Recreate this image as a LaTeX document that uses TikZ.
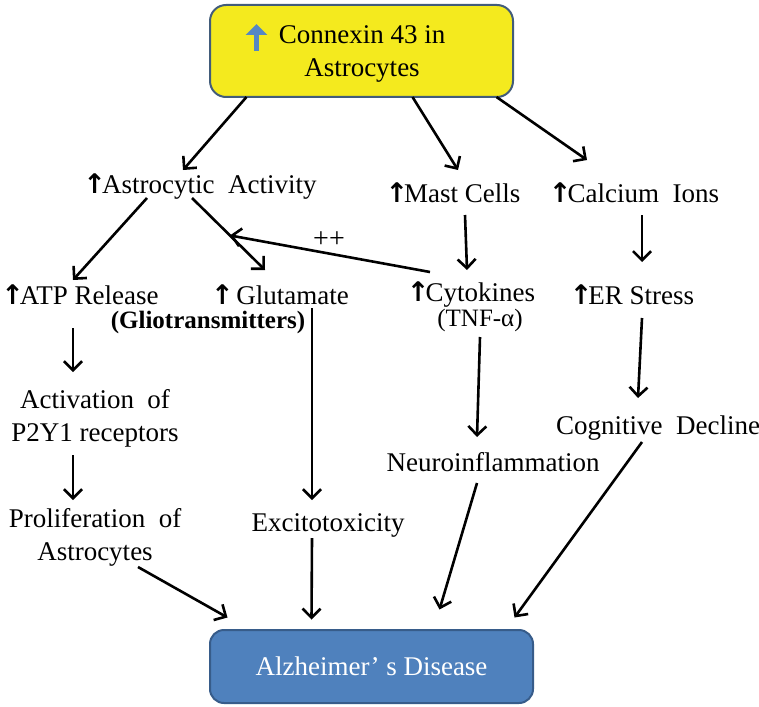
\documentclass[tikz,border=0pt]{standalone}
\usepackage{fontspec}
\setmainfont{Liberation Serif}
\newfontfamily\djv{DejaVu Sans}
\usetikzlibrary{arrows.meta,calc}
\definecolor{yel}{RGB}{244,234,30}
\definecolor{yelborder}{RGB}{66,92,122}
\definecolor{adfill}{RGB}{79,129,189}
\definecolor{adborder}{RGB}{55,92,138}
\definecolor{upblue}{RGB}{85,135,195}
\newcommand\uparrw{{\djv\bfseries ↑}\kern-4pt}
\begin{document}
\begin{tikzpicture}[x=1pt,y=-1pt,
  txt/.style={font=\fontsize{27}{33}\selectfont, inner sep=0pt, align=center},
  arr/.style={line width=2.6pt, -{Straight Barb[length=9pt,width=18pt,line width=2.6pt]}},
  topbox/.style={draw=yelborder, line width=2pt, fill=yel, rounded corners=16pt,
    minimum width=303pt, minimum height=92pt, inner sep=0pt},
  adbox/.style={draw=adborder, line width=2pt, fill=adfill, rounded corners=14pt,
    minimum width=323pt, minimum height=73pt, inner sep=0pt, text=white,
    font=\fontsize{27}{30}\selectfont},
  bluearrow/.style={draw=upblue, line width=5.5pt, -{Triangle[length=11pt,width=21pt]}},
]
\useasboundingbox (0,0) rectangle (759,706);

\node[topbox] (top) at (361.5,51) {};
\node[txt] (toptext) at (362,54) {Connexin 43 in\\Astrocytes};
\draw[bluearrow] ([shift={(-105,0)}]top.center) -- ([shift={(-105,-27)}]top.center);
\node[adbox] (ad) at (371.5,666.5) {Alzheimer’ s Disease};

\node[txt] (act) at (200,187) {\uparrw Astrocytic\enspace Activity};
\node[txt] (mast) at (453,193) {\uparrw Mast Cells};
\node[txt] (calc) at (634,193) {\uparrw Calcium\enspace Ions};
\node[txt] (atp) at (80,295) {\uparrw ATP Release};
\node[txt] (glu) at (280,295) {\uparrw\ Glutamate};
\node[txt, font=\fontsize{25}{30}\selectfont\bfseries] (glio) at (208,322) {(Gliotransmitters)};
\node[txt] (cyt) at (471,295) {\uparrw Cytokines};
\node[txt, font=\fontsize{25}{30}\selectfont] (tnf) at (480,320) {(TNF-α)};
\node[txt] (er) at (632,295) {\uparrw ER Stress};
\node[txt] (activ) at (95,418) {Activation\enspace of\\P2Y1 receptors};
\node[txt] (prolif) at (95,537) {Proliferation\enspace of\\Astrocytes};
\node[txt] (excito) at (328,525) {Excitotoxicity};
\node[txt] (neuro) at (493,462) {Neuroinflammation};
\node[txt] (cog) at (658,428) {Cognitive\enspace Decline};
\node[txt, font=\fontsize{28}{33}\selectfont] (pp) at (329,240) {++};

\draw[arr] ([shift={(-115,46)}]top.center) -- ([shift={(-17,-17)}]act.center);
\draw[arr] ([shift={(51,46)}]top.center) -- ([shift={(5,-23)}]mast.center);
\draw[arr] ([shift={(135,46)}]top.center) -- ([shift={(-47,-33)}]calc.center);

\coordinate (ag1) at ([shift={(-8,11)}]act.center);
\coordinate (ag2) at ([shift={(-15,-25)}]glu.center);
\draw[arr] ([shift={(-53,11)}]act.center) -- ([shift={(-7,-15)}]atp.center);
\draw[arr] (ag1) -- (ag2);
\coordinate (fb) at ($(ag1)!0.52!(ag2)$);
\draw[arr] ([shift={(-41,-23)}]cyt.center) -- (fb);

\draw[arr] ([shift={(12,22)}]mast.center) -- ([shift={(-4,-25)}]cyt.center);
\draw[arr] ([shift={(8,22)}]calc.center) -- ([shift={(10,-33)}]er.center);

\draw[arr] ([shift={(-7,33)}]atp.center) -- ([shift={(-22,-46)}]activ.center);
\draw[arr] ([shift={(-22,37)}]activ.center) -- ([shift={(-22,-37)}]prolif.center);
\draw[arr] ([shift={(32,13)}]glu.center) -- ([shift={(-16,-25)}]excito.center);
\draw[arr] ([shift={(-16,13)}]excito.center) -- ([shift={(-60,-47)}]ad.center);
\draw[arr] ([shift={(43,30)}]prolif.center) -- ([shift={(-144,-49)}]ad.center);
\draw[arr] ([shift={(-13,-125)}]neuro.center) -- ([shift={(-16,-25)}]neuro.center);
\draw[arr] ([shift={(-16,21)}]neuro.center) -- ([shift={(68,-57)}]ad.center);
\draw[arr] ([shift={(10,23)}]er.center) -- ([shift={(-20,-30)}]cog.center);
\draw[arr] ([shift={(-16,14)}]cog.center) -- ([shift={(143,-49)}]ad.center);
\end{tikzpicture}
\end{document}
